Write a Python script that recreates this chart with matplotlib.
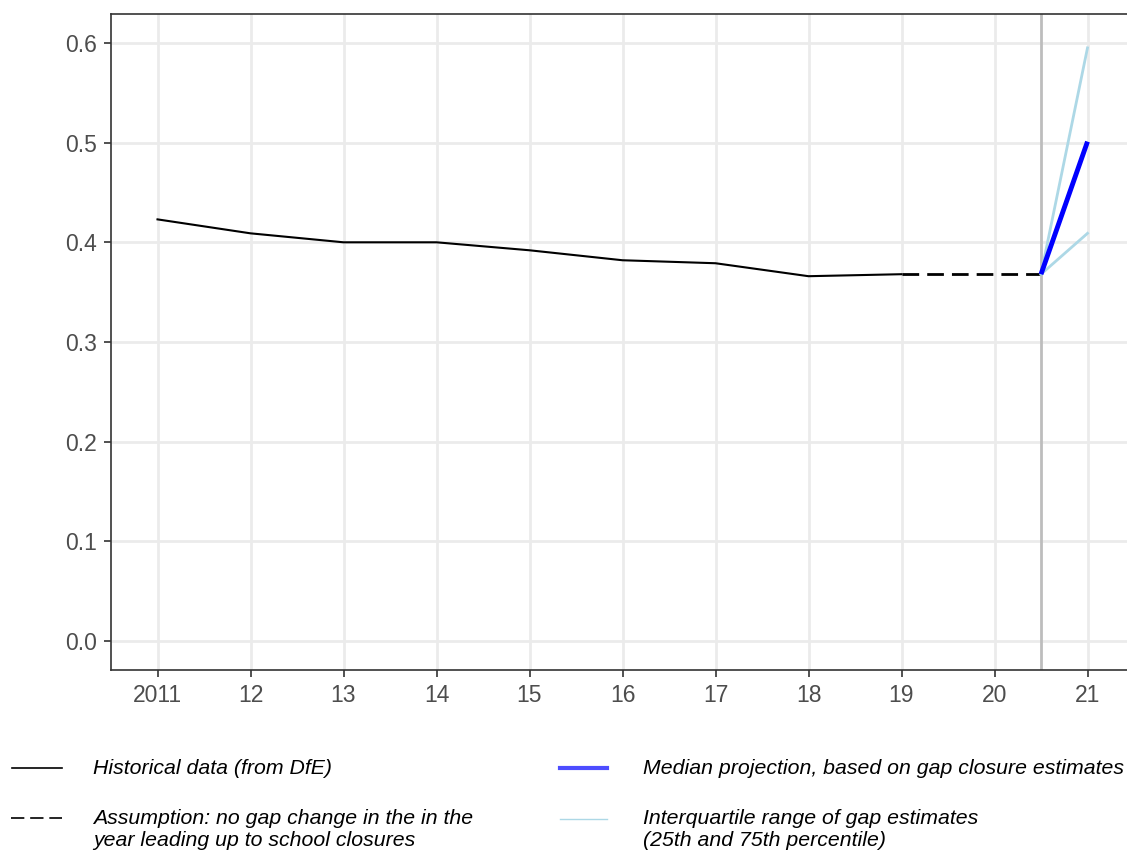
import matplotlib.pyplot as plt
from matplotlib.lines import Line2D

plt.rcParams['font.family'] = ['Liberation Sans', 'DejaVu Sans']

# Historical gap data
years = [2011, 2012, 2013, 2014, 2015, 2016, 2017, 2018, 2019]
gap = [0.423, 0.409, 0.400, 0.400, 0.392, 0.382, 0.379, 0.366, 0.368]

# Assumption: flat gap until school closures
assume_x = [2019, 2020.5]
assume_y = [0.368, 0.368]

# Projections from closure point to 2021
proj_x = [2020.5, 2021]
median_y = [0.368, 0.501]
p25_y = [0.368, 0.409]
p75_y = [0.368, 0.595]

xticks = [2011, 2012, 2013, 2014, 2015, 2016, 2017, 2018, 2019, 2020, 2021]
xticklabels = ['2011', '12', '13', '14', '15', '16', '17', '18', '19', '20', '21']
yticks = [0.0, 0.1, 0.2, 0.3, 0.4, 0.5, 0.6]

W, H = 1127, 861
fig = plt.figure(figsize=(W / 100, H / 100), dpi=100)
ax = fig.add_axes([111 / W, 1 - 670 / H, 1023 / W, 656 / H])

ax.set_xlim(2010.5, 2021.5)
ax.set_ylim(-0.029, 0.629)
ax.set_xticks(xticks)
ax.set_xticklabels(xticklabels)
ax.set_yticks(yticks)
ax.set_yticklabels(['%.1f' % v for v in yticks])
ax.grid(True, color='#ebebeb', linewidth=2)
ax.set_axisbelow(True)
for s in ax.spines.values():
    s.set_color('#333333')
    s.set_linewidth(1.2)
ax.tick_params(colors='#333333', labelcolor='#4d4d4d', labelsize=16.5,
               length=5, width=1.2, pad=5)

ax.axvline(2020.5, color='#bdbdbd', linewidth=2, zorder=1)
ax.plot(years, gap, color='black', linewidth=1.5)
ax.plot(assume_x, assume_y, color='black', linewidth=2, dashes=(6, 2.9))
ax.plot(proj_x, p75_y, color='lightblue', linewidth=2)
ax.plot(proj_x, p25_y, color='lightblue', linewidth=2)
ax.plot(proj_x, median_y, color='blue', linewidth=3.5, solid_capstyle='butt')

# Legend drawn by hand below the panel
def fy(y):
    return 1 - y / H

fig.add_artist(Line2D([12 / W, 62 / W], [fy(768), fy(768)], color='black', linewidth=1.2))
fig.add_artist(Line2D([11 / W, 62 / W], [fy(818), fy(818)], color='black', linewidth=1.2,
                      dashes=(8, 3.5)))
fig.add_artist(Line2D([560 / W, 607 / W], [fy(768), fy(768)], color='#4d4dff', linewidth=3))
fig.add_artist(Line2D([560 / W, 607 / W], [fy(819), fy(819)], color='lightblue', linewidth=1))

tk = dict(fontsize=15.3, style='italic', va='center', ha='left', color='black')
fig.text(93 / W, fy(768), 'Historical data (from DfE)', **tk)
fig.text(93 / W, fy(818), 'Assumption: no gap change in the in the', **tk)
fig.text(93 / W, fy(840), 'year leading up to school closures', **tk)
fig.text(643 / W, fy(768), 'Median projection, based on gap closure estimates', **tk)
fig.text(643 / W, fy(818), 'Interquartile range of gap estimates', **tk)
fig.text(643 / W, fy(840), '(25th and 75th percentile)', **tk)

fig.savefig('out.png', dpi=100)
